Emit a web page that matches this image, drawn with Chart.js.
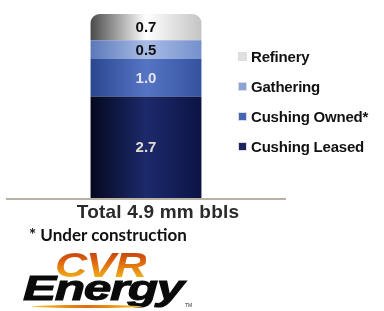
<!DOCTYPE html>
<html>
<head>
<meta charset="utf-8">
<script src="https://cdn.jsdelivr.net/npm/chart.js@4.4.1/dist/chart.umd.min.js"></script>
<style>
  body { margin: 0; background: #fff; width: 384px; height: 311px; overflow: hidden; position: relative; font-family: "Liberation Sans", Arial, sans-serif; }
  #wrap { position: absolute; left: 0; top: 0; width: 384px; height: 202px; }
  #legend { position: absolute; left: 238px; top: 41px; }
  .item { height: 30px; display: flex; align-items: center; font-weight: bold; font-size: 15px; color: #111; letter-spacing: -0.2px; }
  .box { width: 7px; height: 7px; margin-right: 4px; border: 1px solid #ddd; }
  #total { position: absolute; left: 0; width: 316px; top: 202px; line-height: 19px; text-align: center; font-size: 19px; font-weight: bold; color: #2a2a2a; letter-spacing: 0.2px; }
  #note { position: absolute; left: 29px; top: 226px; font-family: Lato, sans-serif; font-size: 17px; font-weight: bold; color: #111; line-height: 17px; }
  #cvr { position: absolute; left: 55px; top: 247px; font-size: 35px; font-weight: bold; font-style: italic; letter-spacing: -1px; line-height: 35px;
         transform: scaleX(1.28); transform-origin: left top;
         background: linear-gradient(#b8300c, #e06a10 45%, #f5c21c); -webkit-background-clip: text; background-clip: text; color: transparent; }
  #energy { position: absolute; left: 23px; top: 270px; font-size: 35px; font-weight: bold; font-style: italic; letter-spacing: -1px; color: #0a0a0a; line-height: 35px;
            transform: scaleX(1.42); transform-origin: left top; -webkit-text-stroke: 1px #0a0a0a; }
  #swoosh { position: absolute; left: 32px; top: 305px; width: 110px; height: 3px; border-radius: 50%; background: linear-gradient(90deg, #f5c21c, #e06a10, #f5c21c); }
  #tm { position: absolute; left: 185px; top: 302px; font-size: 5px; color: #333; }
</style>
</head>
<body>
<div id="wrap"><canvas id="tankchart" width="384" height="202"></canvas></div>
<div id="legend"></div>
<div id="total">Total 4.9 mm bbls</div>
<div id="note">* Under construction</div>
<div id="cvr">CVR</div>
<div id="energy">Energy</div>
<div id="swoosh"></div>
<div id="tm">TM</div>
<script>
  // Lagerkapazität in mm bbls
  const categories = ['Storage'];
  const seriesNames = ['Cushing Leased', 'Cushing Owned*', 'Gathering', 'Refinery'];
  const seriesValues = [[2.7], [1.0], [0.5], [0.7]];
  const valueLabels = ['2.7', '1.0', '0.5', '0.7'];

  // Farbverläufe für den Zylinder-Look: [Rand links, Mitte, Rand rechts]
  const shades = [
    ['#05081e', '#1c2a6c', '#0c1444'],
    ['#2a4690', '#5575c4', '#34529e'],
    ['#5c78b8', '#a8bce6', '#7590cc'],
    ['#4a4a4a', '#ffffff', '#c4c4c4']
  ];
  const labelColors = ['#e0ddd0', '#e4e4ee', '#111', '#111'];
  const legendColors = ['#1a2460', '#4466b4', '#8aa2d6', '#e0e0e0'];

  const barShare = 0.396;

  function cylinder(context, i) {
    var chart = context.chart;
    var area = chart.chartArea;
    if (!area) return shades[i][1];
    var cx = chart.scales.x.getPixelForValue(0);
    var half = (area.right - area.left) * barShare / 2;
    var g = chart.ctx.createLinearGradient(cx - half, 0, cx + half, 0);
    g.addColorStop(0, shades[i][0]);
    g.addColorStop(0.5, shades[i][1]);
    g.addColorStop(1, shades[i][2]);
    return g;
  }

  var datasets = seriesNames.map(function (name, i) {
    return {
      label: name,
      data: seriesValues[i],
      backgroundColor: function (c) { return cylinder(c, i); },
      borderWidth: 0,
      borderSkipped: i === 3 ? false : 'start',
      borderRadius: i === 3 ? { topLeft: 9, topRight: 9, bottomLeft: 0, bottomRight: 0 } : 0,
      barPercentage: barShare,
      categoryPercentage: 1
    };
  });

  // Werte in die Segmente schreiben + Grundlinie
  const extras = {
    id: 'extras',
    afterDatasetsDraw: function (chart) {
      var ctx = chart.ctx;
      var area = chart.chartArea;
      ctx.save();
      ctx.strokeStyle = '#b9b2a4';
      ctx.lineWidth = 2;
      ctx.beginPath();
      ctx.moveTo(area.left, area.bottom + 1);
      ctx.lineTo(area.right, area.bottom + 1);
      ctx.stroke();
      ctx.font = 'bold 15px "Liberation Sans", Arial, sans-serif';
      ctx.textAlign = 'center';
      ctx.textBaseline = 'middle';
      chart.data.datasets.forEach(function (ds, i) {
        var bar = chart.getDatasetMeta(i).data[0];
        ctx.fillStyle = labelColors[i];
        ctx.fillText(valueLabels[i], bar.x, (bar.y + bar.base) / 2 + 1);
      });
      ctx.restore();
    }
  };

  new Chart(document.getElementById('tankchart').getContext('2d'), {
    type: 'bar',
    data: { labels: categories, datasets: datasets },
    options: {
      responsive: false,
      animation: false,
      layout: { padding: { left: 6, right: 98, top: 14, bottom: 4 } },
      scales: {
        x: { stacked: true, display: false },
        y: { stacked: true, display: false, min: 0, max: 4.9 }
      },
      plugins: { legend: { display: false }, tooltip: { enabled: false } }
    },
    plugins: [extras]
  });

  // Legende (umgekehrte Reihenfolge wie im Stapel)
  var legend = document.getElementById('legend');
  for (var i = seriesNames.length - 1; i >= 0; i--) {
    var row = document.createElement('div');
    row.className = 'item';
    row.innerHTML = '<span class="box" style="background:' + legendColors[i] + '"></span>' + seriesNames[i];
    legend.appendChild(row);
  }
</script>
</body>
</html>
